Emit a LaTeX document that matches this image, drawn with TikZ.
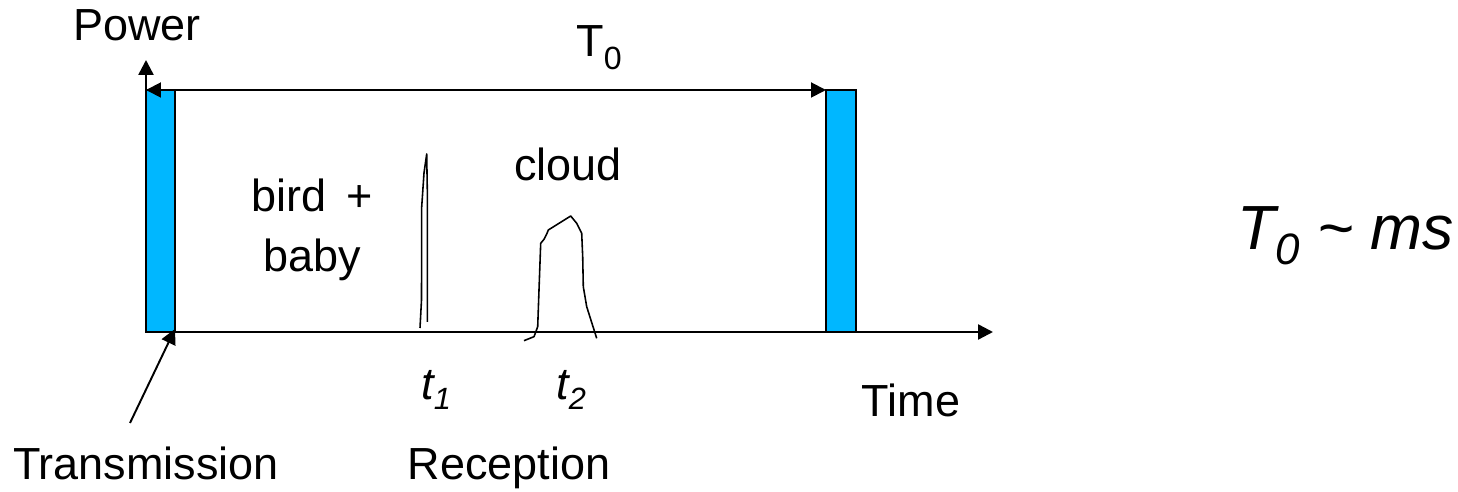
\documentclass[tikz,border=0pt]{standalone}
\usepackage{fontspec}
\setmainfont{Liberation Sans}
\usetikzlibrary{arrows.meta}
\definecolor{barblue}{RGB}{0,183,255}
\newcommand\lblfont{\fontsize{25.6}{30}\selectfont}
\newcommand\eqfont{\fontsize{35.5}{40}\selectfont}
\begin{document}
\begin{tikzpicture}[x=0.02cm,y=-0.02cm,
  axisline/.style={line width=1.4pt,-{Triangle[length=0.3cm,width=0.3cm]}},
  bar/.style={draw=black,line width=1.1pt,fill=barblue},
  echo/.style={line width=0.9pt,line join=round},
  txt/.style={inner sep=0pt,anchor=base,font=\lblfont},
  tip/.style={-{Triangle[length=0.3cm,width=0.3cm]}}]
\useasboundingbox (0,0) rectangle (1458,492);
% bars
\draw[bar] (146,90) rectangle (175,332);
\draw[bar] (826,90) rectangle (856,332);
\coordinate (O) at (146,332);
\coordinate (Ytop) at (146,60);
\coordinate (Xend) at (993,332);
\coordinate (L) at (146,90);
\coordinate (R) at (826,90);
\coordinate (Bc) at (175,329);
\coordinate (Ts) at (130,423);
% axes
\draw[axisline] (O) -- (Ytop);
\draw[axisline] (O) -- (Xend);
\draw[line width=1.1pt,{Triangle[length=0.3cm,width=0.3cm]}-{Triangle[length=0.3cm,width=0.3cm]}] (L) -- (R);
\draw[line width=1.1pt,tip] (Ts) -- (Bc);
% echoes
\draw[echo] (420,328) -- (421.5,300) -- (421.7,207) -- (424,173) -- (426.7,154) -- (427.3,190) -- (427.3,322);
\draw[echo] (524,340.7) -- (534,336.7) -- (537.7,326.7) -- (539,290) -- (540.7,243.3) -- (544,239.3) -- (546.7,234) -- (548.3,230) -- (570.7,216) -- (576.7,223.3) -- (581.7,233.3) -- (582.7,256.7) -- (583.3,286.7) -- (586.7,306.7) -- (596.7,338.3);
% labels
\node[txt] (power) at (137,41) {Power};
\node[txt,anchor=base west] (T0) at (576,57) {T\raisebox{-0.27em}{\fontsize{18.3}{20}\selectfont 0}};
\node[txt] (bird) at (312,212) {bird\, +};
\node[txt] (baby) at (312,272) {baby};
\node[txt] (cloud) at (568,181) {cloud};
\node[txt,anchor=base west] (t1) at (421,400) {\itshape t\raisebox{-0.22em}{\fontsize{17.5}{20}\selectfont\itshape 1}};
\node[txt,anchor=base west] (t2) at (556,400) {\itshape t\raisebox{-0.22em}{\fontsize{17.5}{20}\selectfont\itshape 2}};
\node[txt] (time) at (911,417) {Time};
\node[txt] (trans) at (146,480) {Transmission};
\node[txt] (recep) at (509,480) {Reception};
\node[inner sep=0pt,anchor=base west,font=\eqfont] (eq) at (1237,250) {\itshape T\raisebox{-0.24em}{\fontsize{25}{28}\selectfont\itshape 0} \textasciitilde{} ms};
\end{tikzpicture}
\end{document}
